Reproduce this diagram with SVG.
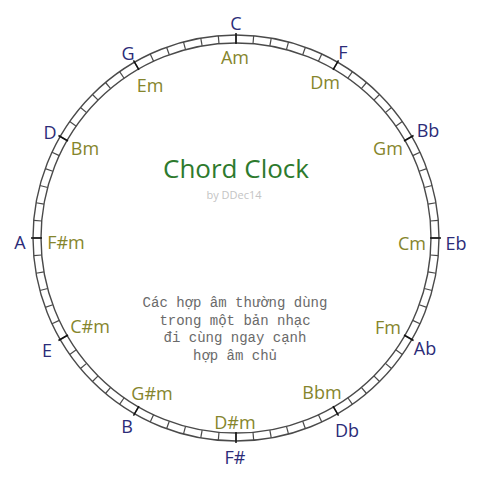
<svg xmlns="http://www.w3.org/2000/svg" width="482" height="482" viewBox="0 0 482 482">
<style>
.ring{fill:none;stroke:#4a4a4a;stroke-width:1.4}
.tk{stroke:#4a4a4a;stroke-width:1.2}
.mt{stroke:#111;stroke-width:1.5}
.maj{font-family:"Open Sans","DejaVu Sans",sans-serif;font-size:18px;fill:#2c2c78;text-anchor:middle}
.min{font-family:"Open Sans","DejaVu Sans",sans-serif;font-size:18px;fill:#85852c;text-anchor:middle}
.title{font-family:"Open Sans","DejaVu Sans",sans-serif;font-size:26px;fill:#2d7a2d;text-anchor:middle}
.by{font-family:"Open Sans","DejaVu Sans",sans-serif;font-size:11px;fill:#c4c4c4;text-anchor:middle}
.note{font-family:"Liberation Mono","DejaVu Sans Mono",monospace;font-size:14px;fill:#6a6a6a;text-anchor:middle}
</style>
<defs>
<line id="t" class="tk" x1="236" y1="35" x2="236" y2="43"/>
<line id="m" class="mt" x1="236" y1="33" x2="236" y2="44"/>
</defs>
<rect width="482" height="482" fill="#ffffff"/>
<g id="connectors">
<circle class="ring" cx="236" cy="238" r="203"/>
<circle class="ring" cx="236" cy="238" r="195"/>
<use href="#t" transform="rotate(0 236 238)"/><use href="#t" transform="rotate(5 236 238)"/><use href="#t" transform="rotate(10 236 238)"/><use href="#t" transform="rotate(15 236 238)"/><use href="#t" transform="rotate(20 236 238)"/><use href="#t" transform="rotate(25 236 238)"/>
<use href="#t" transform="rotate(30 236 238)"/><use href="#t" transform="rotate(35 236 238)"/><use href="#t" transform="rotate(40 236 238)"/><use href="#t" transform="rotate(45 236 238)"/><use href="#t" transform="rotate(50 236 238)"/><use href="#t" transform="rotate(55 236 238)"/>
<use href="#t" transform="rotate(60 236 238)"/><use href="#t" transform="rotate(65 236 238)"/><use href="#t" transform="rotate(70 236 238)"/><use href="#t" transform="rotate(75 236 238)"/><use href="#t" transform="rotate(80 236 238)"/><use href="#t" transform="rotate(85 236 238)"/>
<use href="#t" transform="rotate(90 236 238)"/><use href="#t" transform="rotate(95 236 238)"/><use href="#t" transform="rotate(100 236 238)"/><use href="#t" transform="rotate(105 236 238)"/><use href="#t" transform="rotate(110 236 238)"/><use href="#t" transform="rotate(115 236 238)"/>
<use href="#t" transform="rotate(120 236 238)"/><use href="#t" transform="rotate(125 236 238)"/><use href="#t" transform="rotate(130 236 238)"/><use href="#t" transform="rotate(135 236 238)"/><use href="#t" transform="rotate(140 236 238)"/><use href="#t" transform="rotate(145 236 238)"/>
<use href="#t" transform="rotate(150 236 238)"/><use href="#t" transform="rotate(155 236 238)"/><use href="#t" transform="rotate(160 236 238)"/><use href="#t" transform="rotate(165 236 238)"/><use href="#t" transform="rotate(170 236 238)"/><use href="#t" transform="rotate(175 236 238)"/>
<use href="#t" transform="rotate(180 236 238)"/><use href="#t" transform="rotate(185 236 238)"/><use href="#t" transform="rotate(190 236 238)"/><use href="#t" transform="rotate(195 236 238)"/><use href="#t" transform="rotate(200 236 238)"/><use href="#t" transform="rotate(205 236 238)"/>
<use href="#t" transform="rotate(210 236 238)"/><use href="#t" transform="rotate(215 236 238)"/><use href="#t" transform="rotate(220 236 238)"/><use href="#t" transform="rotate(225 236 238)"/><use href="#t" transform="rotate(230 236 238)"/><use href="#t" transform="rotate(235 236 238)"/>
<use href="#t" transform="rotate(240 236 238)"/><use href="#t" transform="rotate(245 236 238)"/><use href="#t" transform="rotate(250 236 238)"/><use href="#t" transform="rotate(255 236 238)"/><use href="#t" transform="rotate(260 236 238)"/><use href="#t" transform="rotate(265 236 238)"/>
<use href="#t" transform="rotate(270 236 238)"/><use href="#t" transform="rotate(275 236 238)"/><use href="#t" transform="rotate(280 236 238)"/><use href="#t" transform="rotate(285 236 238)"/><use href="#t" transform="rotate(290 236 238)"/><use href="#t" transform="rotate(295 236 238)"/>
<use href="#t" transform="rotate(300 236 238)"/><use href="#t" transform="rotate(305 236 238)"/><use href="#t" transform="rotate(310 236 238)"/><use href="#t" transform="rotate(315 236 238)"/><use href="#t" transform="rotate(320 236 238)"/><use href="#t" transform="rotate(325 236 238)"/>
<use href="#t" transform="rotate(330 236 238)"/><use href="#t" transform="rotate(335 236 238)"/><use href="#t" transform="rotate(340 236 238)"/><use href="#t" transform="rotate(345 236 238)"/><use href="#t" transform="rotate(350 236 238)"/><use href="#t" transform="rotate(355 236 238)"/>
<use href="#m" transform="rotate(0 236 238)"/><use href="#m" transform="rotate(30 236 238)"/><use href="#m" transform="rotate(60 236 238)"/><use href="#m" transform="rotate(90 236 238)"/><use href="#m" transform="rotate(120 236 238)"/><use href="#m" transform="rotate(150 236 238)"/>
<use href="#m" transform="rotate(180 236 238)"/><use href="#m" transform="rotate(210 236 238)"/><use href="#m" transform="rotate(240 236 238)"/><use href="#m" transform="rotate(270 236 238)"/><use href="#m" transform="rotate(300 236 238)"/><use href="#m" transform="rotate(330 236 238)"/>
</g>
<g id="key-C"><text class="maj" x="236" y="29.5">C</text><text class="min" x="235" y="63.5">Am</text></g>
<g id="key-F"><text class="maj" x="343" y="58.5">F</text><text class="min" x="325" y="88.5">Dm</text></g>
<g id="key-Bb"><text class="maj" x="428" y="136.5">Bb</text><text class="min" x="388" y="154.5">Gm</text></g>
<g id="key-Eb"><text class="maj" x="456" y="249.5">Eb</text><text class="min" x="412" y="249.5">Cm</text></g>
<g id="key-Ab"><text class="maj" x="425" y="354.5">Ab</text><text class="min" x="388" y="333.5">Fm</text></g>
<g id="key-Db"><text class="maj" x="347" y="436.5">Db</text><text class="min" x="322" y="398.5">Bbm</text></g>
<g id="key-Fs"><text class="maj" x="235" y="463.5">F#</text><text class="min" x="235" y="428.5">D#m</text></g>
<g id="key-B"><text class="maj" x="127" y="432.5">B</text><text class="min" x="152" y="399.5">G#m</text></g>
<g id="key-E"><text class="maj" x="47" y="356.5">E</text><text class="min" x="90" y="332.5">C#m</text></g>
<g id="key-A"><text class="maj" x="20" y="248.5">A</text><text class="min" x="66" y="248.5">F#m</text></g>
<g id="key-D"><text class="maj" x="50" y="138.5">D</text><text class="min" x="85" y="154.5">Bm</text></g>
<g id="key-G"><text class="maj" x="128" y="59.5">G</text><text class="min" x="150" y="91.5">Em</text></g>
<g id="title"><text class="title" x="236" y="178">Chord Clock</text><text class="by" x="234" y="199">by DDec14</text></g>
<g id="note">
<text class="note" x="235" y="307">Các hợp âm thường dùng</text>
<text class="note" x="235" y="324.5">trong một bản nhạc</text>
<text class="note" x="235" y="342">đi cùng ngay cạnh</text>
<text class="note" x="235" y="359.5">hợp âm chủ</text>
</g>
</svg>
